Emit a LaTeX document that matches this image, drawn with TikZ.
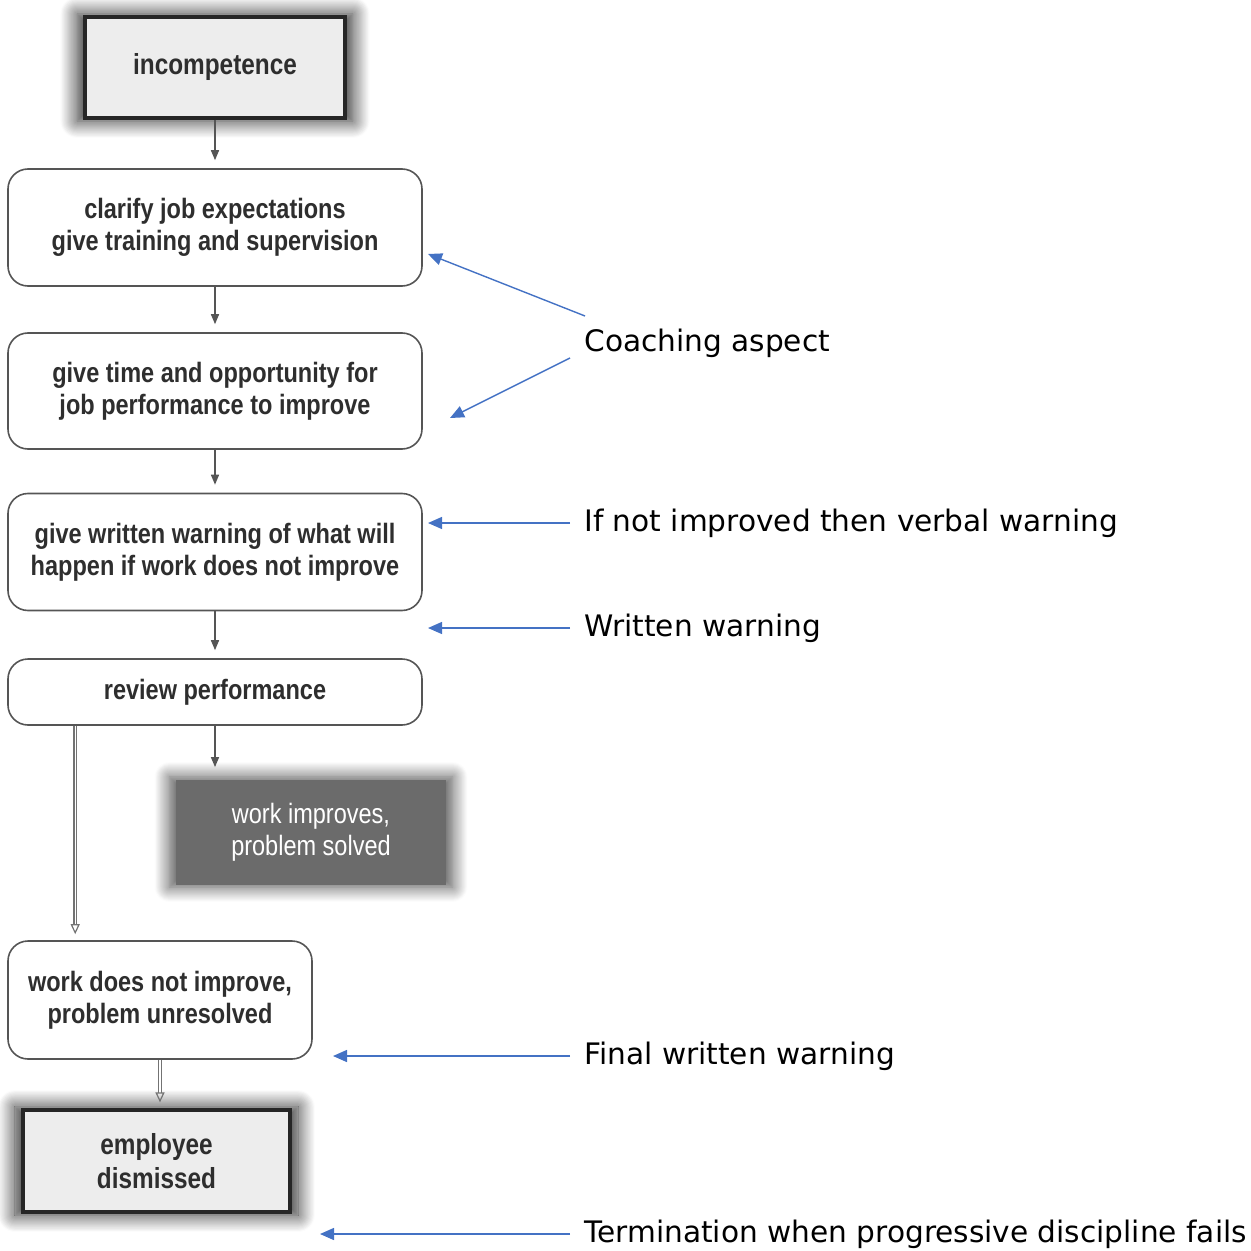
\documentclass[tikz,border=0pt]{standalone}
\usepackage{fontspec}
\setmainfont{DejaVu Sans}
\newfontfamily\boxfont[FakeStretch=0.84]{Liberation Sans}
\usetikzlibrary{arrows.meta, positioning, shadows.blur}
\definecolor{linkblue}{HTML}{4472C4}
\definecolor{boxline}{HTML}{555555}
\definecolor{boxtext}{HTML}{2E2E2E}

\begin{document}
\begin{tikzpicture}
    [
        x=0.5pt, y=-0.5pt,
        stepbox/.style={rectangle, rounded corners=10pt, draw=boxline, line width=0.8pt, fill=white,
            minimum width=207pt, align=center, text=boxtext, font=\boxfont\bfseries\fontsize{14}{16}\selectfont},
        endbox/.style={rectangle, draw=black!85, line width=1.6pt, fill=black!7, align=center, text=boxtext,
            font=\boxfont\bfseries\fontsize{14.5}{17}\selectfont,
            blur shadow={shadow xshift=0pt, shadow yshift=0pt, shadow blur radius=8pt, shadow blur steps=16,
                shadow scale=1.06, shadow opacity=85}},
        goodbox/.style={rectangle, fill=black!58, text=white, align=center,
            font=\boxfont\fontsize{14}{16}\selectfont,
            blur shadow={shadow xshift=0pt, shadow yshift=0pt, shadow blur radius=7pt, shadow blur steps=16,
                shadow scale=1.05, shadow opacity=70}},
        flow/.style={draw=boxline, line width=0.7pt, -{Triangle[length=5pt,width=4pt]}, shorten >=4pt},
        noflow/.style={draw=black!55, line width=0.6pt, double=white, double distance=0.6pt, -{Triangle[open,length=5pt,width=4.5pt]}, shorten >=3pt},
        note/.style={anchor=west, inner sep=0pt, font=\fontsize{14.8}{17}\selectfont},
        pointer/.style={draw=linkblue, line width=0.7pt, -{Triangle[length=7pt,width=6pt]}},
    ]
    \useasboundingbox (0,0) rectangle (1251,1251);

    % flow chart
    \node[endbox, minimum width=130pt, minimum height=50.5pt] (incompetence) at (215,67.5) {incompetence};
    \node[stepbox, minimum height=58.5pt] (clarify) at (215,227.5) {clarify job expectations\\give training and supervision};
    \node[stepbox, minimum height=58pt] (opportunity) at (215,391) {give time and opportunity for\\job performance to improve};
    \node[stepbox, minimum height=58.5pt] (warning) at (215,552) {give written warning of what will\\happen if work does not improve};
    \node[stepbox, minimum height=33pt] (review) at (215,692) {review performance};
    \node[goodbox, minimum width=135pt, minimum height=52.5pt] (solved) at (311,832) {work improves,\\problem solved};
    \node[stepbox, minimum width=152pt, minimum height=59pt] (unresolved) at (160,1000) {work does not improve,\\problem unresolved};
    \node[endbox, minimum width=133.5pt, minimum height=51pt] (dismissed) at (156.5,1161) {employee\\dismissed};

    \draw[flow] (incompetence) -- (clarify);
    \draw[flow] (clarify) -- (opportunity);
    \draw[flow] (opportunity) -- (warning);
    \draw[flow] (warning) -- (review);
    \draw[flow, shorten >=6pt] (review) -- (review |- solved.north);
    \draw[noflow] ([xshift=34pt]review.south west) -- ([xshift=34pt]review.south west |- unresolved.north);
    \draw[noflow] (unresolved.south) -- (unresolved.south |- dismissed.north);

    % comments on the right
    \node[note] (coaching) at (584,343) {Coaching aspect};
    \node[note] (verbal) at (584,523) {If not improved then verbal warning};
    \node[note] (written) at (584,628) {Written warning};
    \node[note] (final) at (584,1056) {Final written warning};
    \node[note] (termination) at (584,1234) {Termination when progressive discipline fails};

    \coordinate (coachtop) at (585,316);
    \coordinate (coachlow) at (570,358);
    \coordinate (hit1) at (428,254);
    \coordinate (hit2) at (450,418);
    \coordinate (hit3) at (428,523);
    \coordinate (hit4) at (428,628);
    \coordinate (hit5) at (333,1056);
    \coordinate (hit6) at (320,1234);

    \draw[pointer] (coachtop) -- (hit1);
    \draw[pointer] (coachlow) -- (hit2);
    \draw[pointer] ([xshift=-7pt]verbal.west) -- (hit3);
    \draw[pointer] ([xshift=-7pt]written.west) -- (hit4);
    \draw[pointer] ([xshift=-7pt]final.west) -- (hit5);
    \draw[pointer] ([xshift=-7pt]termination.west) -- (hit6);
\end{tikzpicture}
\end{document}
